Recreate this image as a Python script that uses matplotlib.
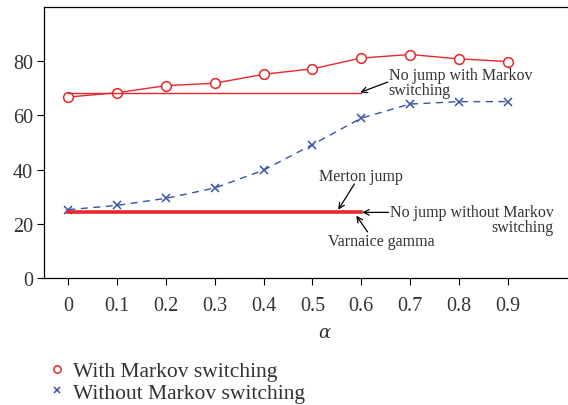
import matplotlib.pyplot as plt

plt.rcParams['font.family'] = ['Liberation Serif', 'DejaVu Serif']
plt.rcParams['mathtext.fontset'] = 'dejavuserif'

alpha = [0, 0.1, 0.2, 0.3, 0.4, 0.5, 0.6, 0.7, 0.8, 0.9]
tick_labels = ['0', '0.1', '0.2', '0.3', '0.4', '0.5', '0.6', '0.7', '0.8', '0.9']
with_markov = [66.8, 68.4, 71.0, 71.9, 75.2, 77.2, 81.2, 82.5, 80.9, 79.9]
without_markov = [25.2, 26.8, 29.4, 33.2, 39.8, 49.2, 59.0, 64.2, 65.1, 65.1]

nojump_x = [0, 0.6]
nojump_with = [68.3, 68.3]
nojump_without = [24.2, 24.2]

red = '#e8262b'
blue = '#3653a8'
txt = '#333333'

fig = plt.figure(figsize=(5.68, 4.06), dpi=100)
# axes run a little past the right edge of the figure, as in the original
ax = fig.add_axes([0.0775, 0.313, 0.988, 0.667])

l1, = ax.plot(alpha, with_markov, color=red, lw=1, marker='o', ms=7,
              mfc='white', mec=red, mew=1.1)
l2, = ax.plot(alpha, without_markov, color=blue, lw=1, ls=(0, (5, 4)), marker='x',
              ms=6, mec=blue, mew=1.1)
ax.plot(nojump_x, nojump_with, color=red, lw=1)
ax.plot(nojump_x, nojump_without, color=red, lw=2.6)

fs = 11.5
arrow = dict(arrowstyle='->', color='black', lw=0.9, shrinkA=0, shrinkB=0)

ax.text(0.656, 72.1, 'No jump with Markov\nswitching', fontsize=fs, color=txt,
        ha='left', va='center', linespacing=0.9)
ax.annotate('', xy=(0.598, 68.5), xytext=(0.654, 72.3), arrowprops=arrow)

ax.text(0.600, 37.6, 'Merton jump', fontsize=fs, color=txt, ha='center', va='center')
ax.annotate('', xy=(0.553, 25.2), xytext=(0.586, 34.7), arrowprops=arrow)

ax.text(0.994, 21.6, 'No jump without Markov\nswitching', fontsize=fs, color=txt,
        ha='right', va='center', linespacing=0.95)
ax.annotate('', xy=(0.602, 24.2), xytext=(0.656, 24.2), arrowprops=arrow)

ax.text(0.641, 13.6, 'Varnaice gamma', fontsize=fs, color=txt, ha='center', va='center')
ax.annotate('', xy=(0.590, 23.0), xytext=(0.613, 17.0), arrowprops=arrow)

ax.set_xlim(-0.05, 1.1)
ax.set_ylim(0, 100)
ax.set_xticks(alpha)
ax.set_xticklabels(tick_labels)
ax.set_yticks([0, 20, 40, 60, 80])
ax.spines['right'].set_visible(False)
ax.tick_params(axis='x', direction='out', length=5, pad=8, labelsize=14.5, colors=txt)
ax.tick_params(axis='y', direction='out', length=5, pad=3, labelsize=14.5, colors=txt)
for s in ax.spines.values():
    s.set_color('black')
    s.set_linewidth(0.9)
ax.tick_params(color='black')

ax.set_xlabel(r'$\alpha$', fontsize=13, color=txt)
ax.xaxis.set_label_coords(0.5, -0.17)

fig.legend([l1, l2], ['With Markov switching', 'Without Markov switching'],
           loc='upper left', bbox_to_anchor=(0.0845, 0.108), frameon=False,
           fontsize=15.5, handlelength=0.8, handletextpad=0.35, labelspacing=0.08,
           markerscale=0.75, borderpad=0, borderaxespad=0, labelcolor=txt)
for h in fig.legends[0].legend_handles:
    h.set_linestyle('none')

fig.savefig('out.png', dpi=100)
